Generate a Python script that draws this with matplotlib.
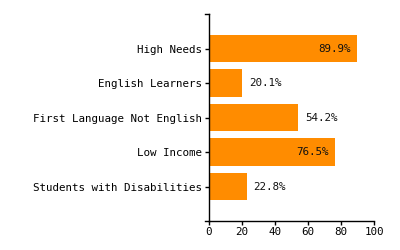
import matplotlib.pyplot as plt

categories = ["High Needs", "English Learners", "First Language Not English",
              "Low Income", "Students with Disabilities"]
values = [89.9, 20.1, 54.2, 76.5, 22.8]
x_ticks = [0, 20, 40, 60, 80, 100]

FS = 7.8
MONO = "DejaVu Sans Mono"

fig = plt.figure(figsize=(4, 2.5), dpi=100)
ax = fig.add_axes([209 / 400, 1 - 221 / 250, 165 / 400, 207 / 250])

pos = list(range(len(categories)))
ax.barh(pos, values, height=0.8, color="#ff8c00")

for p, v in zip(pos, values):
    if v > 60:
        ax.annotate(f"{v}%", (v, p), xytext=(-5, 0), textcoords="offset points",
                    ha="right", va="center", fontsize=FS, family=MONO, color="#111")
    else:
        ax.annotate(f"{v}%", (v, p), xytext=(5, 0), textcoords="offset points",
                    ha="left", va="center", fontsize=FS, family=MONO, color="#111")

ax.set_xlim(0, 100)
ax.set_ylim(5, -1)
ax.set_yticks(pos)
ax.set_yticklabels(categories, family=MONO, fontsize=FS)
ax.set_xticks(x_ticks)
ax.set_xticklabels([str(t) for t in x_ticks], family=MONO, fontsize=FS)
ax.tick_params(axis="both", length=3, width=1, pad=2, color="black")
ax.tick_params(axis="x", pad=1.5)

for s in ["top", "right"]:
    ax.spines[s].set_visible(False)
ax.spines["left"].set_linewidth(1)
ax.spines["bottom"].set_linewidth(1)

# outer ticks like d3 domain path
ax.plot([-2.4, 0], [-1, -1], color="black", lw=1, clip_on=False)
ax.plot([-2.4, 0], [5, 5], color="black", lw=1, clip_on=False)

fig.savefig("out.png", dpi=100)
